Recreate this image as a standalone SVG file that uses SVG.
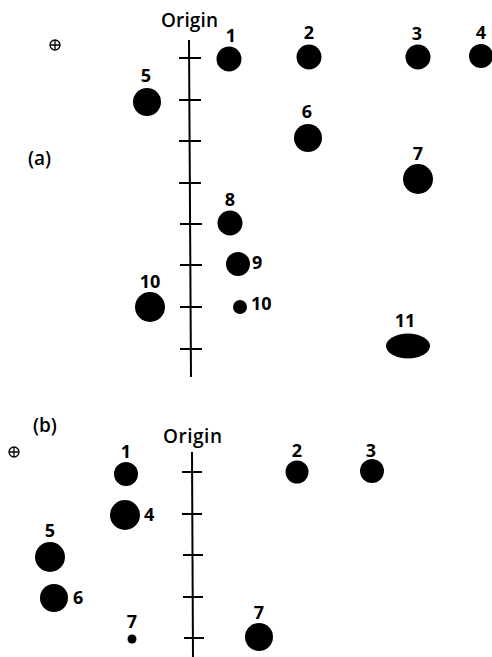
<svg xmlns="http://www.w3.org/2000/svg" width="492" height="657" viewBox="0 0 492 657">
<style>
.spot{fill:#000}
.num{font-family:"Open Sans","Liberation Sans",sans-serif;font-weight:700;font-size:18px;fill:#000}
.mid{text-anchor:middle}
.lbl{font-family:"Open Sans","Liberation Sans",sans-serif;font-weight:600;font-size:19px;fill:#000}
.ax{stroke:#000;stroke-width:2;fill:none}
.tk{stroke:#000;stroke-width:2}
.mark{stroke:#000;stroke-width:1.3;fill:none}
</style>
<rect width="492" height="657" fill="#fff"/>
<!-- Panel a -->
<g id="panel-a-axis" class="ax">
<line x1="189" y1="40" x2="191" y2="377"/>
<path class="tk" d="M179 58H201M179 100H201M179 141H201M179 183H201M180 224H202M180 265H202M180 307H202M180 349H202"/>
</g>
<g id="a-marker"><circle class="mark" cx="55" cy="45" r="5"/><path class="mark" d="M50 45H60M55 40V50"/></g>
<text class="lbl" x="161" y="27" textLength="57">Origin</text>
<text class="lbl" x="28" y="165">(a)</text>
<g id="a1"><circle class="spot" cx="229" cy="59" r="12.5"/><text class="num mid" x="231" y="42">1</text></g>
<g id="a2"><circle class="spot" cx="309" cy="57" r="12.5"/><text class="num mid" x="309" y="39">2</text></g>
<g id="a3"><circle class="spot" cx="418" cy="57" r="12.5"/><text class="num mid" x="417" y="40">3</text></g>
<g id="a4"><circle class="spot" cx="481" cy="56" r="12"/><text class="num mid" x="481" y="39">4</text></g>
<g id="a5"><circle class="spot" cx="147" cy="102" r="14"/><text class="num mid" x="146" y="82">5</text></g>
<g id="a6"><circle class="spot" cx="308" cy="138" r="14"/><text class="num mid" x="307" y="118">6</text></g>
<g id="a7"><circle class="spot" cx="418" cy="179" r="15"/><text class="num mid" x="418" y="160">7</text></g>
<g id="a8"><circle class="spot" cx="230" cy="223" r="12.5"/><text class="num mid" x="230" y="206">8</text></g>
<g id="a9"><circle class="spot" cx="238" cy="264" r="12"/><text class="num" x="252" y="269">9</text></g>
<g id="a10s"><circle class="spot" cx="240" cy="307" r="7"/><text class="num" x="251" y="310">10</text></g>
<g id="a10"><circle class="spot" cx="150" cy="307" r="15"/><text class="num mid" x="150" y="288">10</text></g>
<g id="a11"><ellipse class="spot" cx="408" cy="346" rx="22" ry="12.5"/><text class="num mid" x="405" y="327">11</text></g>
<!-- Panel b -->
<g id="panel-b-axis" class="ax">
<line x1="192" y1="452" x2="193" y2="657"/>
<path class="tk" d="M182 472H202M182 514H202M183 555H203M183 597H203M184 638H204"/>
</g>
<g id="b-marker"><circle class="mark" cx="14" cy="452" r="5"/><path class="mark" d="M9 452H19M14 447V457"/></g>
<text class="lbl" x="163" y="443" textLength="59">Origin</text>
<text class="lbl" x="33" y="432">(b)</text>
<g id="b1"><circle class="spot" cx="126" cy="474" r="12"/><text class="num mid" x="126" y="458">1</text></g>
<g id="b2"><circle class="spot" cx="297" cy="472" r="11.5"/><text class="num mid" x="297" y="457">2</text></g>
<g id="b3"><circle class="spot" cx="372" cy="471" r="12"/><text class="num mid" x="371" y="457">3</text></g>
<g id="b4"><circle class="spot" cx="125" cy="515" r="15"/><text class="num" x="144" y="521">4</text></g>
<g id="b5"><circle class="spot" cx="50" cy="557" r="15"/><text class="num mid" x="50" y="537">5</text></g>
<g id="b6"><circle class="spot" cx="54" cy="598" r="14"/><text class="num" x="73" y="604">6</text></g>
<g id="b7s"><circle class="spot" cx="132" cy="639" r="4.5"/><text class="num mid" x="132" y="628">7</text></g>
<g id="b7"><circle class="spot" cx="259" cy="637" r="14"/><text class="num mid" x="259" y="619">7</text></g>
</svg>
